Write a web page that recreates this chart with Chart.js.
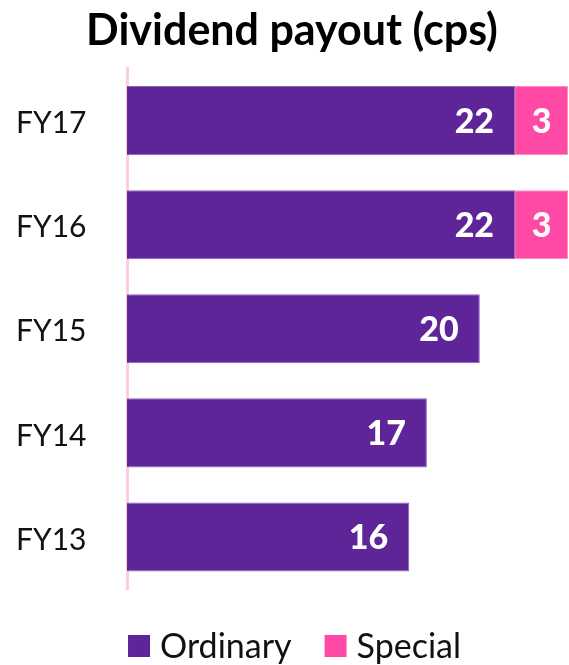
<!DOCTYPE html>
<html>
<head>
<meta charset="utf-8">
<script src="https://cdn.jsdelivr.net/npm/chart.js@4"></script>
<style>
  html, body { margin: 0; padding: 0; background: #fff; }
  #wrap { width: 569px; height: 665px; }
</style>
</head>
<body>
<div id="wrap"><canvas id="myChart" width="569" height="665"></canvas></div>
<script>
// datos del gráfico
const years = ['FY17', 'FY16', 'FY15', 'FY14', 'FY13'];
const ordinary = [22, 22, 20, 17, 16];
const special = [3, 3, null, null, null];

const PURPLE = '#5E2599';
const PINK = '#FF4AA5';

// etiquetas blancas dentro de las barras
const barLabels = {
    id: 'barLabels',
    afterDatasetsDraw(chart) {
        const ctx = chart.ctx;
        ctx.save();
        ctx.fillStyle = '#fff';
        ctx.font = '900 34px Lato';
        ctx.textBaseline = 'middle';
        chart.data.datasets.forEach((ds, i) => {
            const meta = chart.getDatasetMeta(i);
            meta.data.forEach((bar, j) => {
                const v = ds.data[j];
                if (v == null) return;
                if (i === 0) {
                    ctx.textAlign = 'right';
                    ctx.fillText(String(v), bar.x - 21, bar.y + 1);
                } else {
                    ctx.textAlign = 'center';
                    ctx.fillText(String(v), (bar.x + bar.base) / 2, bar.y + 1);
                }
            });
        });
        ctx.restore();
    }
};

// leyenda propia abajo
const bottomLegend = {
    id: 'bottomLegend',
    afterDraw(chart) {
        const ctx = chart.ctx;
        const box = 22, gapText = 10, gapItem = 33;
        ctx.save();
        ctx.font = '34px Lato';
        ctx.textBaseline = 'middle';
        ctx.textAlign = 'left';
        const items = chart.data.datasets.map(ds => ({ text: ds.label, color: ds.backgroundColor }));
        const widths = items.map(it => box + gapText + ctx.measureText(it.text).width);
        const total = widths.reduce((a, b) => a + b, 0) + gapItem * (items.length - 1);
        let x = (chart.width - total) / 2 + 10;
        const cy = 646;
        items.forEach((it, i) => {
            ctx.fillStyle = it.color;
            ctx.fillRect(x, cy - box / 2, box, box);
            ctx.fillStyle = '#111';
            ctx.fillText(it.text, x + box + gapText, cy + 1);
            x += widths[i] + gapItem;
        });
        ctx.restore();
    }
};

new Chart(document.getElementById('myChart'), {
    type: 'bar',
    data: {
        labels: years,
        datasets: [
            { label: 'Ordinary', data: ordinary, backgroundColor: PURPLE,
              borderColor: '#8A62BE', borderWidth: 1,
              barPercentage: 0.8, categoryPercentage: 0.83 },
            { label: 'Special', data: special, backgroundColor: PINK,
              borderColor: '#FF8CC8', borderWidth: 1,
              barPercentage: 0.8, categoryPercentage: 0.83 }
        ]
    },
    options: {
        indexAxis: 'y',
        responsive: false,
        animation: false,
        layout: { padding: { left: 16, right: 1, top: 0, bottom: 76 } },
        scales: {
            x: { stacked: true, min: 0, max: 25, display: false },
            y: {
                stacked: true,
                grid: { display: false, drawTicks: false },
                border: { display: true, color: '#FFCCE5', width: 3 },
                ticks: { color: '#111', font: { family: 'Lato', size: 30 }, crossAlign: 'far', labelOffset: 3 },
                afterFit(scale) { scale.width = 111; }
            }
        },
        plugins: {
            title: {
                display: true,
                text: 'Dividend payout (cps)',
                color: '#000',
                font: { family: 'Lato', size: 43, weight: 'bold' },
                padding: { top: 5, bottom: 12 }
            },
            legend: { display: false },
            tooltip: { enabled: false }
        }
    },
    plugins: [barLabels, bottomLegend]
});
</script>
</body>
</html>
